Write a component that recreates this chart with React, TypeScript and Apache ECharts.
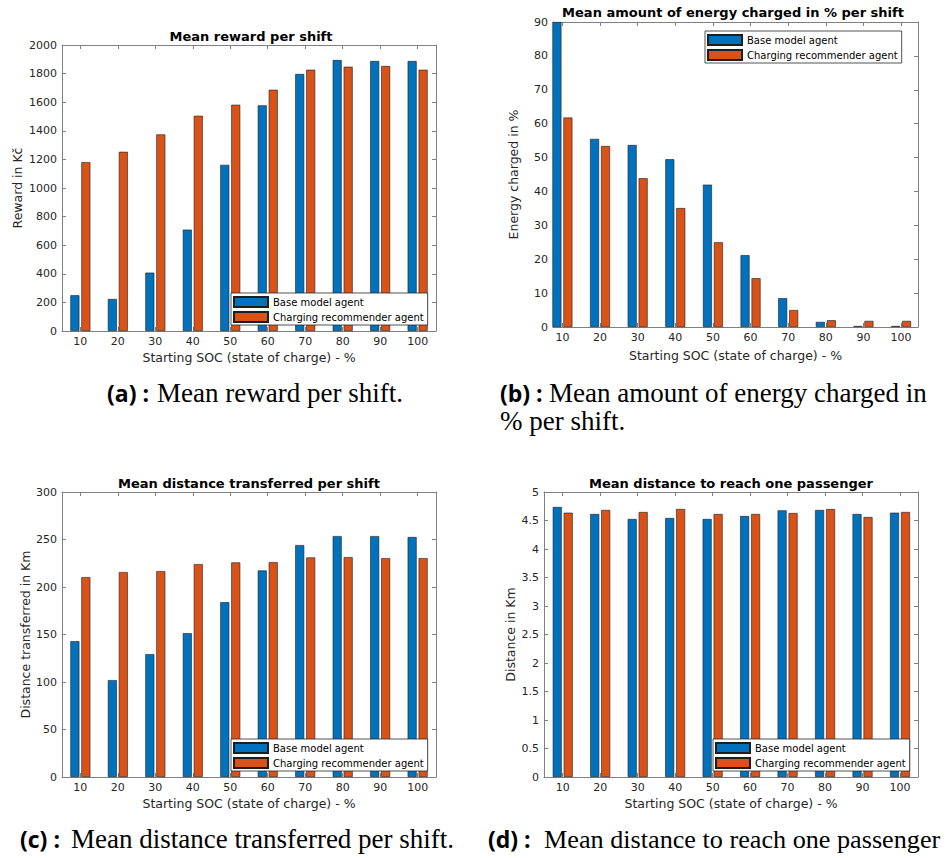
import React, { useEffect, useRef } from "react";
import * as echarts from "echarts";

// Starting state of charge (%) for each evaluated shift group
const socLevels = [10, 20, 30, 40, 50, 60, 70, 80, 90, 100];
const seriesNames = ["Base model agent", "Charging recommender agent"];

// (a) Mean reward per shift, Kč
const rewardBase = [250, 224, 408, 709, 1162, 1578, 1797, 1895, 1888, 1888];
const rewardRecommender = [1181, 1253, 1375, 1505, 1582, 1687, 1827, 1848, 1853, 1827];

// (b) Mean amount of energy charged per shift, %
const energyBase = [90, 55.5, 53.7, 49.5, 42.0, 21.2, 8.5, 1.5, 0.3, 0.3];
const energyRecommender = [61.8, 53.4, 43.9, 35.1, 25.0, 14.4, 5.0, 2.0, 1.8, 1.8];

// (c) Mean distance transferred per shift, km
const transferBase = [143, 102, 129.3, 151.4, 184, 217.4, 244.1, 253.6, 253.6, 252.6];
const transferRecommender = [210.4, 215.7, 216.7, 224.1, 225.9, 226.2, 231.1, 231.5, 230.4, 230.4];

// (d) Mean distance to reach one passenger, km
const pickupBase = [4.737, 4.614, 4.526, 4.543, 4.526, 4.578, 4.678, 4.684, 4.614, 4.637];
const pickupRecommender = [4.637, 4.684, 4.649, 4.701, 4.614, 4.614, 4.631, 4.701, 4.561, 4.649];

const BLUE = "#0072BD";
const ORANGE = "#D95319";
const AXIS = "#808080";
const TEXT = "#262626";
const SANS = "DejaVu Sans";

const panels = [
  {
    title: "Mean reward per shift",
    yName: "Reward in Kč",
    base: rewardBase,
    rec: rewardRecommender,
    yMax: 2000,
    yStep: 200,
    xMin: 5.1,
    xMax: 104.9,
    grid: { left: 62, top: 45, width: 374, height: 286 },
    titlePos: [251, 36],
    yNameGap: 38,
    xNameGap: 20,
    legendPos: { left: 231, top: 293 },
  },
  {
    title: "Mean amount of energy charged in % per shift",
    yName: "Energy charged in %",
    base: energyBase,
    rec: energyRecommender,
    yMax: 90,
    yStep: 10,
    xMin: 7.5,
    xMax: 104.5,
    grid: { left: 553, top: 22, width: 365, height: 305 },
    titlePos: [733, 12],
    yNameGap: 33,
    xNameGap: 22,
    legendPos: { left: 705, top: 31 },
  },
  {
    title: "Mean distance transferred per shift",
    yName: "Distance transferred in Km",
    base: transferBase,
    rec: transferRecommender,
    yMax: 300,
    yStep: 50,
    xMin: 5.1,
    xMax: 104.9,
    grid: { left: 62, top: 492, width: 374, height: 285 },
    titlePos: [249, 483],
    yNameGap: 30,
    xNameGap: 20,
    legendPos: { left: 231, top: 739 },
  },
  {
    title: "Mean distance to reach one passenger",
    yName: "Distance in Km",
    base: pickupBase,
    rec: pickupRecommender,
    yMax: 5,
    yStep: 0.5,
    xMin: 5.0,
    xMax: 104.8,
    grid: { left: 544, top: 492, width: 374, height: 285 },
    titlePos: [731, 483],
    yNameGap: 27,
    xNameGap: 20,
    legendPos: { left: 713, top: 739 },
  },
];

// Sub-figure captions: bold label, caption text lines
const captions = [
  { label: "(a) :", lines: ["Mean reward per shift."], x: 107, textX: 157, baseline: 402, size: 27 },
  { label: "(b) :", lines: ["Mean amount of energy charged in", "% per shift."], x: 500, textX: 549, baseline: 402, size: 27 },
  { label: "(c) :", lines: ["Mean distance transferred per shift."], x: 20, textX: 71, baseline: 848, size: 27 },
  { label: "(d) :", lines: ["Mean distance to reach one passenger"], x: 488, textX: 544, baseline: 848, size: 26.2 },
];

function buildOption() {
  const xAxis: any[] = [];
  const yAxis: any[] = [];
  const series: any[] = [];
  const legend: any[] = [];
  const graphic: any[] = [];

  panels.forEach((p, i) => {
    const tick = {
      show: true,
      inside: true,
      length: 4,
      lineStyle: { color: AXIS, width: 1 },
    };
    const line = { show: true, onZero: false, lineStyle: { color: AXIS, width: 1 } };

    xAxis.push({
      type: "value",
      gridIndex: i,
      position: "bottom",
      min: p.xMin,
      max: p.xMax,
      axisLine: line,
      axisTick: { ...tick, customValues: socLevels },
      axisLabel: {
        customValues: socLevels,
        formatter: (v: number) => String(v),
        color: TEXT,
        fontFamily: SANS,
        fontSize: 11,
        margin: 5,
      },
      splitLine: { show: false },
      name: "Starting SOC (state of charge) - %",
      nameLocation: "middle",
      nameGap: p.xNameGap,
      nameTextStyle: { color: TEXT, fontFamily: SANS, fontSize: 12.5 },
    });
    xAxis.push({
      type: "value",
      gridIndex: i,
      position: "top",
      min: p.xMin,
      max: p.xMax,
      axisLine: line,
      axisTick: { ...tick, customValues: socLevels },
      axisLabel: { show: false },
      splitLine: { show: false },
    });

    yAxis.push({
      type: "value",
      gridIndex: i,
      position: "left",
      min: 0,
      max: p.yMax,
      interval: p.yStep,
      axisLine: line,
      axisTick: tick,
      axisLabel: {
        formatter: (v: number) => String(Math.round(v * 100) / 100),
        color: TEXT,
        fontFamily: SANS,
        fontSize: 11,
        margin: 5,
      },
      splitLine: { show: false },
      name: p.yName,
      nameLocation: "middle",
      nameGap: p.yNameGap,
      nameTextStyle: { color: TEXT, fontFamily: SANS, fontSize: 12.5 },
    });
    yAxis.push({
      type: "value",
      gridIndex: i,
      position: "right",
      min: 0,
      max: p.yMax,
      interval: p.yStep,
      axisLine: line,
      axisTick: tick,
      axisLabel: { show: false },
      splitLine: { show: false },
    });

    [p.base, p.rec].forEach((values, k) => {
      series.push({
        type: "bar",
        name: seriesNames[k],
        xAxisIndex: 2 * i,
        yAxisIndex: 2 * i,
        data: socLevels.map((s, j) => [s, values[j]]),
        barWidth: 9,
        barGap: "22%",
        clip: true,
        itemStyle: {
          color: k === 0 ? BLUE : ORANGE,
          borderColor: "#1e1e1e",
          borderWidth: 0.6,
        },
      });
    });

    legend.push({
      data: seriesNames,
      left: p.legendPos.left,
      top: p.legendPos.top,
      orient: "vertical",
      icon: "rect",
      itemWidth: 34,
      itemHeight: 10,
      itemGap: 3,
      padding: [3, 4, 2, 2],
      borderColor: "#262626",
      borderWidth: 0.8,
      backgroundColor: "#ffffff",
      selectedMode: false,
      textStyle: { color: "#000", fontFamily: SANS, fontSize: 10, lineHeight: 10 },
    });

    graphic.push({
      type: "text",
      x: p.titlePos[0],
      y: p.titlePos[1],
      style: {
        text: p.title,
        fill: "#000",
        fontFamily: SANS,
        fontSize: 13,
        fontWeight: "bold",
        align: "center",
        textAlign: "center",
        verticalAlign: "middle",
        textVerticalAlign: "middle",
      },
    });
  });

  captions.forEach((c) => {
    graphic.push({
      type: "text",
      x: c.x,
      y: c.baseline - 9,
      style: {
        text: c.label,
        fill: "#000",
        fontFamily: "Open Sans",
        fontSize: 23,
        fontWeight: "bold",
        lineHeight: 24,
        align: "left",
        textAlign: "left",
        verticalAlign: "middle",
        textVerticalAlign: "middle",
      },
    });
    c.lines.forEach((ln, j) => {
      graphic.push({
        type: "text",
        x: j === 0 ? c.textX : c.x,
        y: c.baseline + j * 28 - 9,
        style: {
          text: ln,
          fill: "#000",
          fontFamily: "Liberation Serif",
          fontSize: c.size,
          lineHeight: 26,
          align: "left",
          textAlign: "left",
          verticalAlign: "middle",
          textVerticalAlign: "middle",
        },
      });
    });
  });

  return {
    animation: false,
    backgroundColor: "#ffffff",
    grid: panels.map((p) => ({ ...p.grid, containLabel: false })),
    xAxis,
    yAxis,
    series,
    legend,
    graphic,
  };
}

export default function App() {
  const ref = useRef<HTMLDivElement>(null);

  useEffect(() => {
    if (!ref.current) return;
    const chart = echarts.init(ref.current, undefined, { renderer: "svg" });
    chart.setOption(buildOption());
    return () => chart.dispose();
  }, []);

  return (
    <div
      ref={ref}
      style={{ position: "absolute", left: 0, top: 0, width: 947, height: 858, background: "#fff" }}
    />
  );
}
